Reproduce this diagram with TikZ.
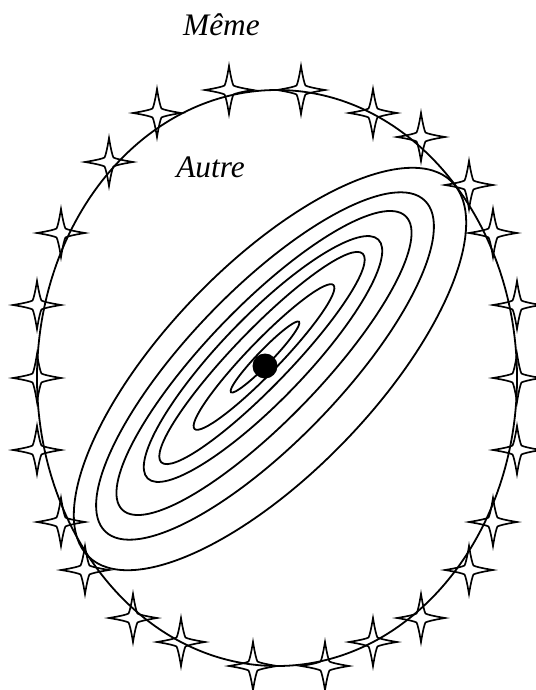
\documentclass[tikz,border=0pt]{standalone}
\usepackage{fontspec}
\setmainfont{Liberation Serif}
\begin{document}
\begin{tikzpicture}[x=0.75pt,y=-0.75pt,line width=1.35pt,
        sparkle/.pic={\draw[line width=1.25pt] (24,0) .. controls (12,2) and (6,3.5) .. (4.5,4.5)
            .. controls (3.5,6) and (2,12) .. (0,24)
            .. controls (-2,12) and (-3.5,6) .. (-4.5,4.5)
            .. controls (-6,3.5) and (-12,2) .. (-24,0)
            .. controls (-12,-2) and (-6,-3.5) .. (-4.5,-4.5)
            .. controls (-3.5,-6) and (-2,-12) .. (0,-24)
            .. controls (2,-12) and (3.5,-6) .. (4.5,-4.5)
            .. controls (6,-3.5) and (12,-2) .. cycle;},
        label text/.style={font=\itshape\fontsize{23.5}{28}\selectfont,anchor=base,inner sep=0pt}]
        \useasboundingbox (0,0) rectangle (536,690);
        % outer set
        \draw (277,378) ellipse[x radius=240, y radius=288];
        \foreach \x/\y in {229/90,301/90,157/113,373/113,109/162,421/137,61/233,469/185,
            37/305,493/233,517/305,37/378,517/378,37/450,517/450,61/522,493/522,
            85/570,469/570,133/618,421/618,181/642,373/642,253/666,325/666} {
            \pic at (\x,\y) {sparkle};
        }
        % level curves
        \foreach \cx/\cy/\a/\b in {265/357/49/7,264/357/100/16,262/358/145/28,263/359/166/42,
            264/363/204/57,265/366/230/76,270/369/261/104} {
            \draw[rotate around={46:(\cx,\cy)}] (\cx,\cy) ellipse[x radius=\a, y radius=\b];
        }
        \fill (265,366) circle[radius=12.5];
        \node[label text] (meme) at (221.5,35) {Même};
        \node[label text] (autre) at (210.5,177) {Autre};
    \end{tikzpicture}
\end{document}
